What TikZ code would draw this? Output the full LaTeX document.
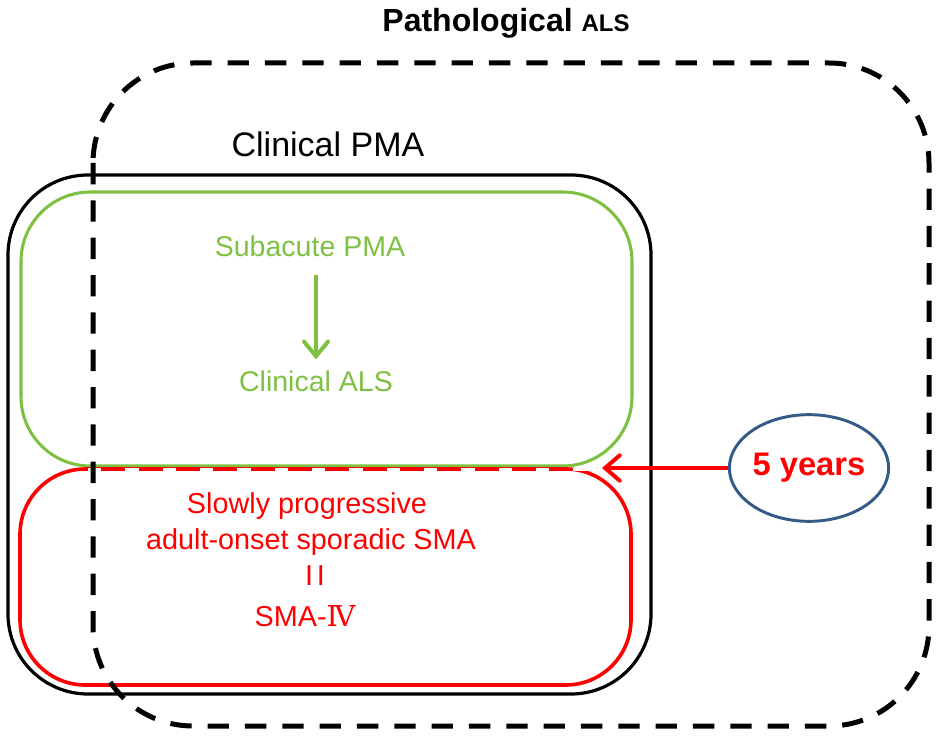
\documentclass[tikz,border=0pt]{standalone}
\usepackage{fontspec}
\setmainfont{Liberation Sans}
\newfontfamily\romanfont{DejaVu Serif}
\usetikzlibrary{arrows.meta, positioning, shapes.geometric}
\definecolor{pmagreen}{RGB}{125,192,66}
\definecolor{smared}{RGB}{255,0,0}
\definecolor{ovalblue}{RGB}{52,90,136}
\tikzset{
	clinbox/.style={draw=black, line width=2.4pt, rounded corners=60pt},
	subbox/.style={draw=pmagreen, line width=2.3pt, rounded corners=52pt},
	slowbox/.style={draw=smared, line width=2.7pt, rounded corners=49pt},
	pathbox/.style={draw=black, line width=3.75pt, dash pattern=on 16pt off 12pt, rounded corners=75pt},
	greentext/.style={text=pmagreen, anchor=base, inner sep=0pt, font=\fontsize{21.4}{25}\selectfont},
	redtext/.style={text=smared, anchor=base, inner sep=0pt, font=\fontsize{21.6}{25}\selectfont},
	greenarrow/.style={draw=pmagreen, line width=3pt, -{Straight Barb[length=11pt, width=18pt, line cap=round]}},
	redarrow/.style={draw=smared, line width=3pt, -{Straight Barb[length=11pt, width=19pt, line cap=round]}}
}

\begin{document}
\begin{tikzpicture}[x=0.75pt, y=-0.75pt]
	\useasboundingbox (0,0) rectangle (945,752);
	% the boxes
	\draw[clinbox] (8,175) rectangle (651,694);
	\draw[subbox] (21,192) rectangle (632,466);
	\draw[slowbox] (20,469) rectangle (631,685);
	\draw[white, line width=2pt, dash pattern=on 10pt off 18pt] (88,469.5) -- (600,469.5);
	\draw[pathbox] (93,63) rectangle (929,726);
	% headings
	\node[anchor=base, inner sep=0pt, font=\fontsize{24}{28}\bfseries] (pathals) at (506,32)
		{Pathological {\fontsize{18}{20}\selectfont ALS}};
	\node[anchor=base, inner sep=0pt, font=\fontsize{25.5}{30}\selectfont] (clinpma) at (328,157) {Clinical PMA};
	% green part
	\node[greentext] (subpma) at (310,257) {Subacute PMA};
	\node[greentext] (clinals) at (316,391) {Clinical ALS};
	\draw[greenarrow, shorten <=13pt, shorten >=8pt] (subpma.south -| clinals.north) -- (clinals.north);
	% red part
	\node[redtext] (slowly) at (307,513) {Slowly progressive};
	\node[redtext] (adult) at (311,549) {adult-onset sporadic SMA};
	\node[redtext] (equal) at (315,585) {I\kern3pt I};
	\node[redtext] (smafour) at (305,626) {SMA-{\romanfont Ⅳ}};
	% five years
	\node[ellipse, draw=ovalblue, line width=2.2pt, minimum width=114pt, minimum height=80pt, inner sep=0pt,
		text=smared, font=\fontsize{24.5}{28}\bfseries] (years) at (809,468) {5 years};
	\coordinate (meet) at (602,468);
	\draw[redarrow] (years) -- (meet);
\end{tikzpicture}
\end{document}
